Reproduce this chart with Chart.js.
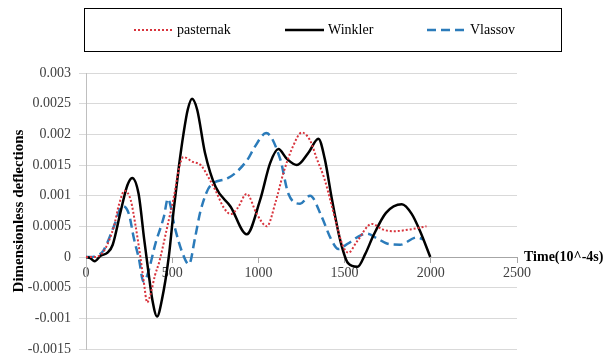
<!DOCTYPE html>
<html>
<head>
<meta charset="utf-8">
<script src="https://cdn.jsdelivr.net/npm/chart.js@4/dist/chart.umd.min.js"></script>
<style>
  html, body { margin: 0; padding: 0; background: #fff; }
</style>
</head>
<body>
<canvas id="chart" width="611" height="359"></canvas>
<script>
// time axis (10^-4 s) and deflections
const xTicks = [0, 500, 1000, 1500, 2000, 2500];
const yTicks = [-0.0015, -0.001, -0.0005, 0, 0.0005, 0.001, 0.0015, 0.002, 0.0025, 0.003];

const pasternakT = [0, 50, 104, 162, 191, 224, 259, 288, 317, 335, 355, 375, 400, 423, 472, 511, 539, 565, 620, 665, 710, 752, 800, 839, 880, 932, 991, 1049, 1100, 1145, 1200, 1252, 1300, 1339, 1380, 1416, 1455, 1490, 1522, 1571, 1658, 1720, 1784, 1880, 1975];
const pasternakY = [0, 0, 0.0001, 0.0005, 0.00085, 0.00108, 0.00093, 0.0005, -0.00003, -0.0004, -0.00074, -0.0006, -0.0003, -0.0001, 0.0005, 0.001, 0.00144, 0.00163, 0.00155, 0.0015, 0.0013, 0.00108, 0.0008, 0.0007, 0.0008, 0.00103, 0.0007, 0.0005, 0.0009, 0.00137, 0.0018, 0.00203, 0.0019, 0.0016, 0.0013, 0.00094, 0.00051, 0.00018, 0.00007, 0.00025, 0.00054, 0.00045, 0.00042, 0.00045, 0.0005];

const winklerT = [0, 25, 50, 85, 125, 155, 200, 240, 268, 305, 337, 360, 385, 412, 440, 480, 510, 540, 565, 590, 615, 645, 690, 752, 839, 932, 1010, 1068, 1116, 1165, 1223, 1290, 1348, 1385, 1426, 1474, 1520, 1575, 1620, 1667, 1740, 1832, 1890, 1938, 1997];
const winklerY = [0, -0.00002, -0.00007, 0.00002, 0.00007, 0.0002, 0.00073, 0.00117, 0.00129, 0.00103, 0.0003, -0.0002, -0.0007, -0.00097, -0.0007, 0, 0.0008, 0.0015, 0.002, 0.0024, 0.00258, 0.0024, 0.0017, 0.00114, 0.00082, 0.00037, 0.00093, 0.00153, 0.00176, 0.0016, 0.0015, 0.0017, 0.00193, 0.0016, 0.00095, 0.00028, -0.0001, -0.00016, 0.00005, 0.00035, 0.00072, 0.00086, 0.0007, 0.00042, 0];

const vlassovT = [0, 30, 60, 100, 162, 211, 249, 278, 307, 333, 355, 404, 452, 475, 516, 555, 597, 633, 665, 723, 820, 935, 980, 1045, 1126, 1174, 1242, 1300, 1368, 1420, 1464, 1520, 1590, 1629, 1690, 1745, 1822, 1919, 1955];
const vlassovY = [0, 0, 0.00002, 0.0001, 0.0005, 0.00083, 0.0007, 0.0003, -0.00003, -0.0004, -0.0003, 0.00023, 0.00066, 0.00095, 0.00047, 0.0001, -0.00012, 0.00032, 0.00076, 0.00117, 0.00128, 0.00158, 0.0018, 0.00202, 0.0016, 0.00103, 0.00087, 0.001, 0.00065, 0.0003, 0.00013, 0.00022, 0.00035, 0.00038, 0.0003, 0.00022, 0.0002, 0.00032, 0.00029];

const seriesNames = ['pasternak', 'Winkler', 'Vlassov'];

function pts(xs, ys) {
  return xs.map((x, i) => ({ x: x, y: ys[i] }));
}

const SERIF = '"Liberation Serif", "Times New Roman", serif';

function noPad(s) {
  s.paddingTop = 0;
  s.paddingBottom = 0;
  s.paddingLeft = 0;
  s.paddingRight = 0;
}

// legend frame + items and the x-axis title, Excel style
const overlay = {
  id: 'overlay',
  afterDraw(chart) {
    const c = chart.ctx;
    c.save();
    c.strokeStyle = '#000';
    c.lineWidth = 1;
    c.setLineDash([]);
    c.strokeRect(84.5, 8.5, 477, 43);

    const itemX = [134, 285, 427];
    const ly = 30;
    c.font = '14px ' + SERIF;
    c.textBaseline = 'middle';
    c.fillStyle = '#000';
    chart.data.datasets.forEach((ds, i) => {
      c.beginPath();
      c.strokeStyle = ds.borderColor;
      c.lineWidth = ds.borderWidth;
      c.setLineDash(ds.borderDash || []);
      c.moveTo(itemX[i], ly);
      c.lineTo(itemX[i] + 39, ly);
      c.stroke();
      c.setLineDash([]);
      c.fillText(ds.label, itemX[i] + 43, ly);
    });

    const y0 = chart.scales.y.getPixelForValue(0);
    c.font = 'bold 14px ' + SERIF;
    c.textBaseline = 'middle';
    c.fillText('Time(10^-4s)', chart.chartArea.right + 7, y0);
    c.restore();
  }
};

new Chart(document.getElementById('chart'), {
  type: 'line',
  data: {
    datasets: [
      {
        label: seriesNames[0],
        data: pts(pasternakT, pasternakY),
        borderColor: '#d8343d',
        borderWidth: 2,
        borderDash: [2, 2],
        pointRadius: 0,
        cubicInterpolationMode: 'monotone'
      },
      {
        label: seriesNames[1],
        data: pts(winklerT, winklerY),
        borderColor: '#000000',
        borderWidth: 2.5,
        pointRadius: 0,
        cubicInterpolationMode: 'monotone'
      },
      {
        label: seriesNames[2],
        data: pts(vlassovT, vlassovY),
        borderColor: '#2b7bba',
        borderWidth: 2.5,
        borderDash: [9, 5],
        pointRadius: 0,
        cubicInterpolationMode: 'monotone'
      }
    ]
  },
  options: {
    responsive: false,
    animation: false,
    events: [],
    layout: { padding: { left: 4, right: 94, top: 73, bottom: 10 } },
    plugins: {
      legend: { display: false },
      tooltip: { enabled: false }
    },
    scales: {
      x: {
        type: 'linear',
        position: { y: 0 },
        min: xTicks[0],
        max: xTicks[xTicks.length - 1],
        afterBuildTicks: (s) => { s.ticks = xTicks.map(v => ({ value: v })); },
        afterFit: noPad,
        ticks: {
          font: { family: SERIF, size: 14 },
          color: '#404040',
          padding: 3,
          maxRotation: 0,
          autoSkip: false,
          callback: (v) => String(v)
        },
        grid: {
          drawOnChartArea: false,
          drawTicks: true,
          tickLength: 5,
          color: '#a6a6a6'
        },
        border: { color: '#a6a6a6', width: 1 }
      },
      y: {
        min: yTicks[0],
        max: yTicks[yTicks.length - 1],
        afterBuildTicks: (s) => { s.ticks = yTicks.map(v => ({ value: v })); },
        afterFit: (s) => { s.width = 82; noPad(s); },
        ticks: {
          font: { family: SERIF, size: 14 },
          color: '#404040',
          padding: 8,
          callback: (v) => String(+v.toFixed(4))
        },
        grid: {
          color: '#d9d9d9',
          tickLength: 7,
          lineWidth: 1
        },
        border: { color: '#bfbfbf', width: 1 },
        title: {
          display: true,
          text: 'Dimensionless deflections',
          font: { family: SERIF, size: 15, weight: 'bold' },
          color: '#000',
          padding: { top: 6, bottom: 0 }
        }
      }
    }
  },
  plugins: [overlay]
});
</script>
</body>
</html>
